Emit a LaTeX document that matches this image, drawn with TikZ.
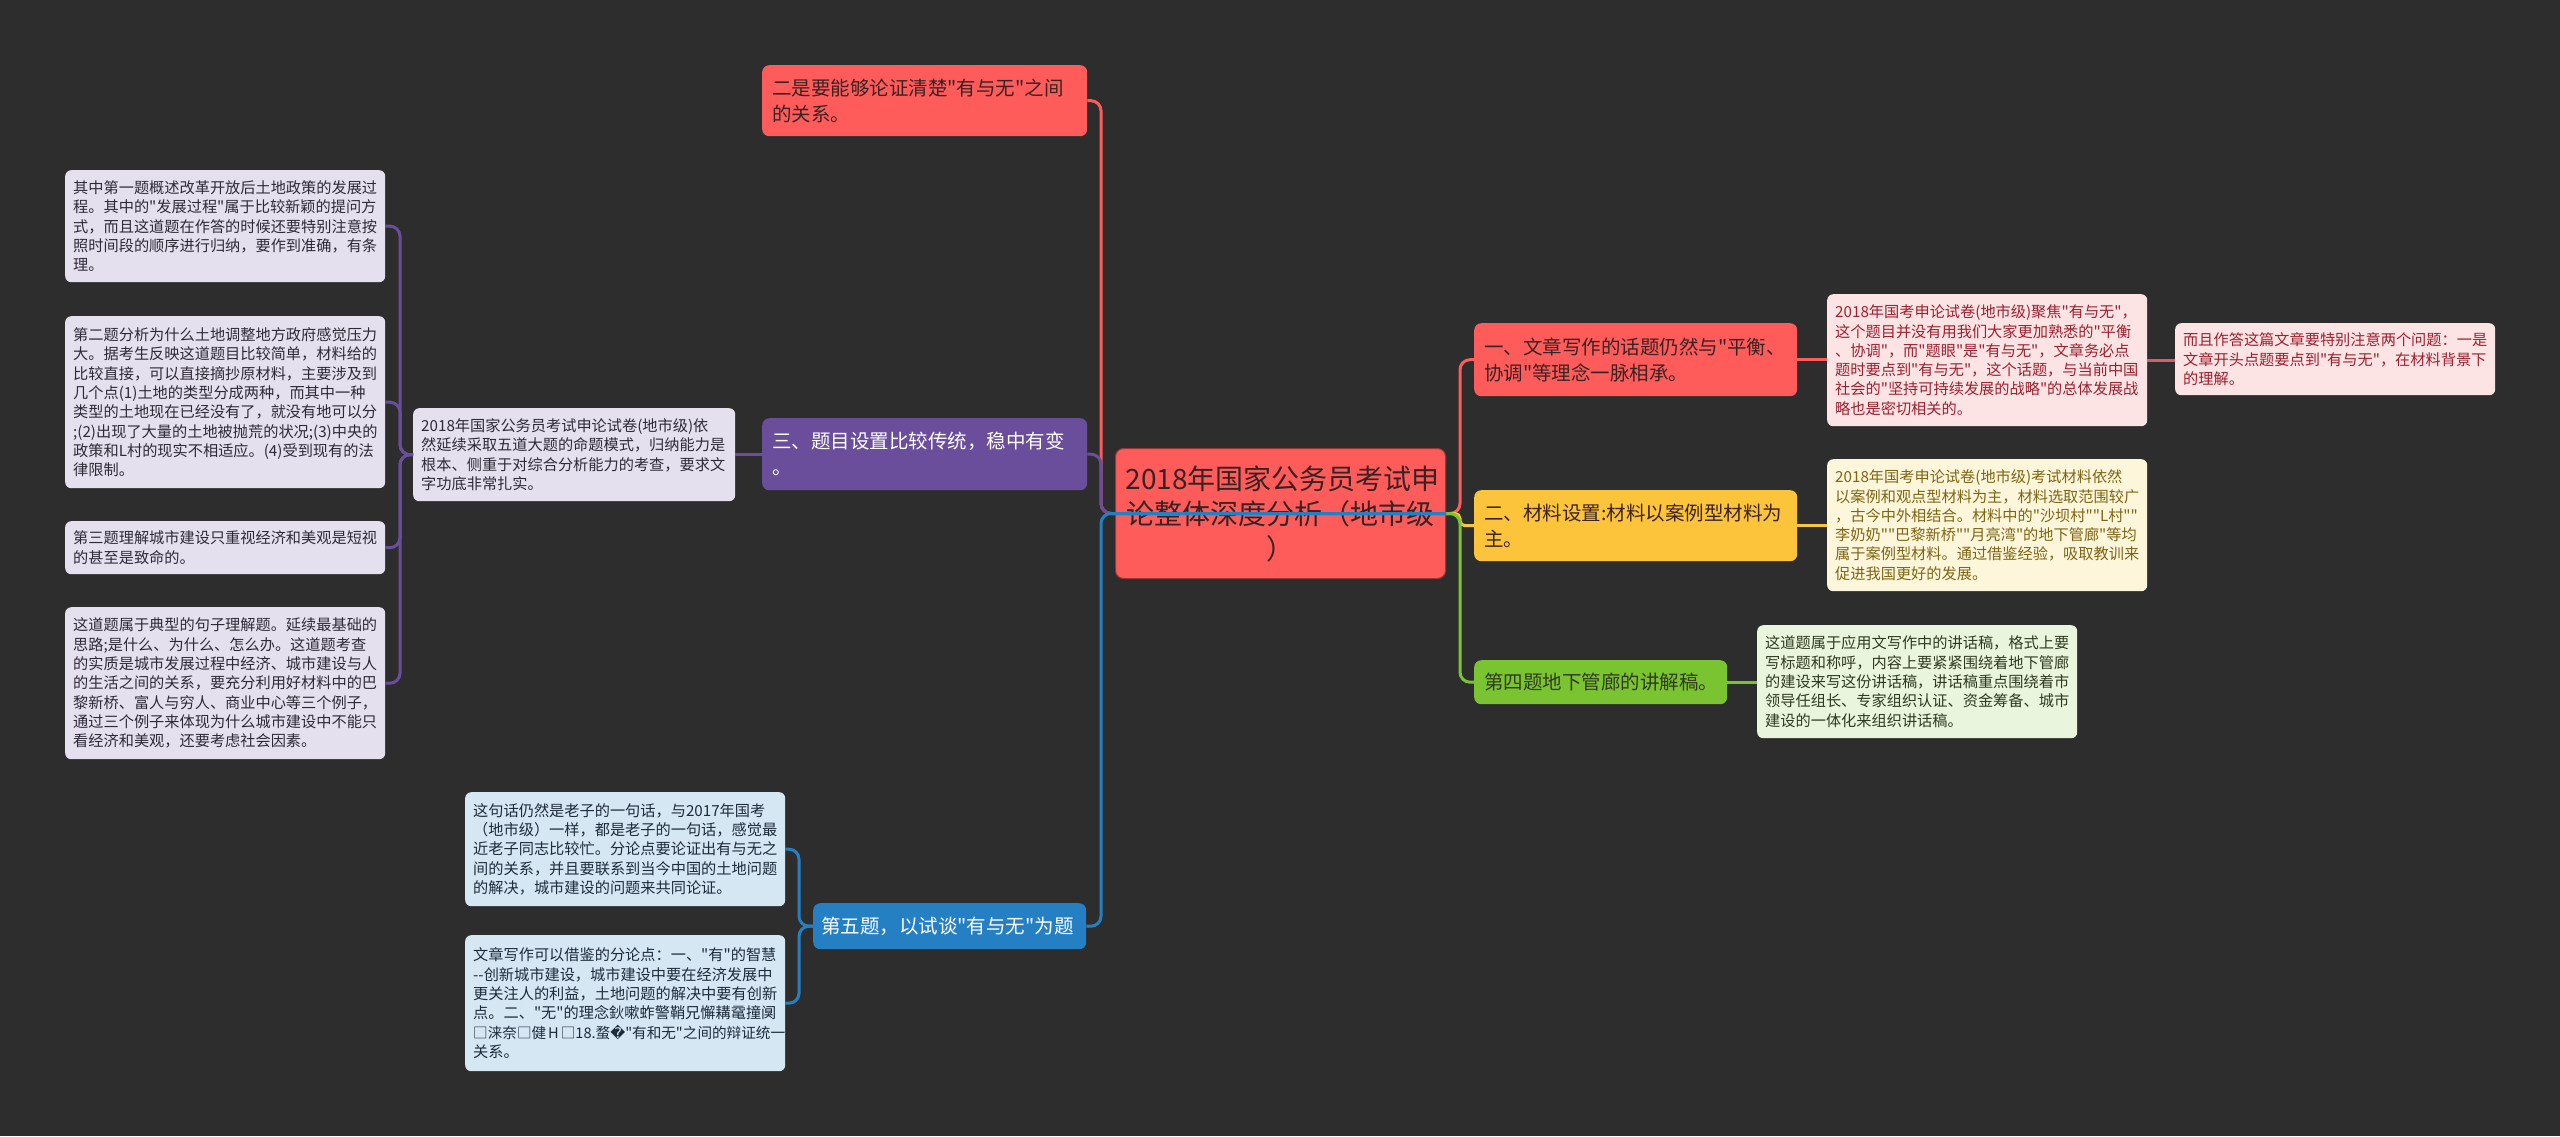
\documentclass[tikz,border=0pt]{standalone}
\usepackage{fontspec}
\newfontfamily\cjk{Noto Sans CJK SC}
\newfontfamily\dejavu{DejaVu Sans}
\usetikzlibrary{calc}
\definecolor{bg}{HTML}{2D2D2D}
\definecolor{cred}{HTML}{FE5B5B}
\definecolor{cpurple}{HTML}{6B4E9B}
\definecolor{cblue}{HTML}{2580C3}
\definecolor{cyellow}{HTML}{FCC43A}
\definecolor{cgreen}{HTML}{7BC431}
\definecolor{lpink}{HTML}{FDE4E4}
\definecolor{lcream}{HTML}{FDF6DA}
\definecolor{lgreen}{HTML}{E9F5DD}
\definecolor{llav}{HTML}{E5E0EE}
\definecolor{lblue}{HTML}{D6E7F4}
\definecolor{tdark}{HTML}{3A2222}
\definecolor{tpink}{HTML}{9A2030}
\definecolor{tcream}{HTML}{7D6515}
\definecolor{tgreen}{HTML}{2F3A20}
\definecolor{tlav}{HTML}{2E2A35}
\definecolor{tblue}{HTML}{1D2B3A}
\definecolor{cline2}{HTML}{D06070}
\tikzset{
  box/.style={anchor=north west, rounded corners=6, inner xsep=8, inner ysep=0,
    align=left, font=\cjk\fontsize{15.2}{19.3}\selectfont},
  topic/.style={anchor=north west, rounded corners=7, inner xsep=10, inner ysep=0,
    align=left, font=\cjk\fontsize{19.5}{26}\selectfont},
  link/.style={line width=3, rounded corners=10},
}
\begin{document}
\begin{tikzpicture}[x=1pt,y=-1pt]
\useasboundingbox (0,0) rectangle (2560,1136);
\fill[bg] (0,0) rectangle (2560,1136);

% root
\node[anchor=north west, fill=cred, draw=cred!60!black, line width=1, rounded corners=8,
  minimum width=330, minimum height=130, text width=310, inner xsep=10, inner ysep=0,
  align=center, font=\cjk\fontsize{28}{35}\selectfont, text=tdark] (root) at (1115,448)
  {2018年国家公务员考试申\\论整体深度分析（地市级\\）};

% level 1 topics
\node[topic, fill=cred, text=tdark, minimum width=325, minimum height=71, text width=305] (t2) at (762,65)
  {二是要能够论证清楚"有与无"之间\\的关系。};
\node[topic, fill=cpurple, text=white, minimum width=325, minimum height=72, text width=305] (t3) at (762,418)
  {三、题目设置比较传统，稳中有变\\。};
\node[topic, fill=cblue, text=white, minimum width=273, minimum height=46, text width=257, inner xsep=8] (t5) at (813,903)
  {第五题，以试谈"有与无"为题};
\node[topic, fill=cred, text=tdark, minimum width=323, minimum height=73, text width=303] (n1) at (1474,323)
  {一、文章写作的话题仍然与"平衡、\\协调"等理念一脉相承。};
\node[topic, fill=cyellow, text=tdark, minimum width=323, minimum height=71, text width=303] (n2) at (1474,490)
  {二、材料设置:材料以案例型材料为\\主。};
\node[topic, fill=cgreen, text=tgreen, minimum width=253, minimum height=44, text width=233] (n4) at (1474,660)
  {第四题地下管廊的讲解稿。};

% detail boxes (left)
\node[box, fill=llav, text=tlav, minimum width=320, minimum height=112, text width=304] (l1) at (65,170)
  {其中第一题概述改革开放后土地政策的发展过\\程。其中的"发展过程"属于比较新颖的提问方\\式，而且这道题在作答的时候还要特别注意按\\照时间段的顺序进行归纳，要作到准确，有条\\理。};
\node[box, fill=llav, text=tlav, minimum width=320, minimum height=172, text width=304] (l2) at (65,316)
  {第二题分析为什么土地调整地方政府感觉压力\\大。据考生反映这道题目比较简单，材料给的\\比较直接，可以直接摘抄原材料，主要涉及到\\几个点(1)土地的类型分成两种，而其中一种\\类型的土地现在已经没有了，就没有地可以分\\;(2)出现了大量的土地被抛荒的状况;(3)中央的\\政策和L村的现实不相适应。(4)受到现有的法\\律限制。};
\node[box, fill=llav, text=tlav, minimum width=320, minimum height=53, text width=304] (l3) at (65,521)
  {第三题理解城市建设只重视经济和美观是短视\\的甚至是致命的。};
\node[box, fill=llav, text=tlav, minimum width=320, minimum height=152, text width=304] (l4) at (65,607)
  {这道题属于典型的句子理解题。延续最基础的\\思路;是什么、为什么、怎么办。这道题考查\\的实质是城市发展过程中经济、城市建设与人\\的生活之间的关系，要充分利用好材料中的巴\\黎新桥、富人与穷人、商业中心等三个例子，\\通过三个例子来体现为什么城市建设中不能只\\看经济和美观，还要考虑社会因素。};
\node[box, fill=llav, text=tlav, minimum width=322, minimum height=93, text width=306] (mid) at (413,408)
  {2018年国家公务员考试申论试卷(地市级)依\\然延续采取五道大题的命题模式，归纳能力是\\根本、侧重于对综合分析能力的考查，要求文\\字功底非常扎实。};

% detail boxes (bottom)
\node[box, fill=lblue, text=tblue, minimum width=320, minimum height=114, text width=304] (b1) at (465,792)
  {这句话仍然是老子的一句话，与2017年国考\\（地市级）一样，都是老子的一句话，感觉最\\近老子同志比较忙。分论点要论证出有与无之\\间的关系，并且要联系到当今中国的土地问题\\的解决，城市建设的问题来共同论证。};
\node[box, fill=lblue, text=tblue, minimum width=320, minimum height=136, text width=304] (b2) at (465,935)
  {文章写作可以借鉴的分论点：一、"有"的智慧\\--创新城市建设，城市建设中要在经济发展中\\更关注人的利益，土地问题的解决中要有创新\\点。二、"无"的理念鈥嗽蚱警鞘兄懈耩鼋撞阒\\{\fontsize{14.6}{19.3}\selectfont □涞奈□健\kern2pt H\kern2pt □18.蝥{\dejavu �}"有和无"之间的辩证统一}\\关系。};

% detail boxes (right)
\node[box, fill=lpink, text=tpink, minimum width=320, minimum height=132, text width=304] (p1) at (1827,294)
  {2018年国考申论试卷(地市级)聚焦"有与无"，\\这个题目并没有用我们大家更加熟悉的"平衡\\、协调"，而"题眼"是"有与无"，文章务必点\\题时要点到"有与无"，这个话题，与当前中国\\社会的"坚持可持续发展的战略"的总体发展战\\略也是密切相关的。};
\node[box, fill=lpink, text=tpink, minimum width=320, minimum height=72, text width=304] (p2) at (2175,323)
  {而且作答这篇文章要特别注意两个问题：一是\\文章开头点题要点到"有与无"，在材料背景下\\的理解。};
\node[box, fill=lcream, text=tcream, minimum width=320, minimum height=132, text width=304] (c1) at (1827,459)
  {2018年国考申论试卷(地市级)考试材料依然\\以案例和观点型材料为主，材料选取范围较广\\，古今中外相结合。材料中的"沙坝村""L村""\\李奶奶""巴黎新桥""月亮湾"的地下管廊"等均\\属于案例型材料。通过借鉴经验，吸取教训来\\促进我国更好的发展。};
\node[box, fill=lgreen, text=tgreen, minimum width=320, minimum height=113, text width=304] (g1) at (1757,625)
  {这道题属于应用文写作中的讲话稿，格式上要\\写标题和称呼，内容上要紧紧围绕着地下管廊\\的建设来写这份讲话稿，讲话稿重点围绕着市\\领导任组长、专家组织认证、资金筹备、城市\\建设的一体化来组织讲话稿。};

% junctions
\coordinate (jl) at ($(root.west)+(-14,0)$);
\coordinate (jr) at ($(root.east)+(14,0)$);
\coordinate (jm) at ($(mid.west)+(-13,0)$);
\coordinate (jb) at ($(t5.west)+(-14,0)$);

% right connectors from root
\draw[link, draw=cred] (root.east) -- (jr) |- (n1.west);
\draw[link, draw=cyellow, rounded corners=5] (root.east) -- (jr) |- (n2.west);
\draw[link, draw=cgreen] (root.east) -- (jr) |- (n4.west);
% left connectors from root
\draw[link, draw=cred] (root.east) -- (jl) |- (t2.east);
\draw[link, draw=cpurple] (root.east) -- (jl) |- (t3.east);
\draw[link, draw=cblue] (root.east) -- (jl) |- (t5.east);

% second level
\draw[link, draw=cred] (n1.east) -- (p1.west |- n1.east);
\draw[link, draw=cline2] (p1.east) -- (p2.west |- p1.east);
\draw[link, draw=cyellow] (n2.east) -- (c1.west |- n2.east);
\draw[link, draw=cgreen] (n4.east) -- (g1.west |- n4.east);
\draw[link, draw=cpurple] (t3.west) -- (mid.east |- t3.west);
\draw[link, draw=cpurple] (mid.west) -- (jm) |- (l1.east);
\draw[link, draw=cpurple] (mid.west) -- (jm) |- (l2.east);
\draw[link, draw=cpurple] (mid.west) -- (jm) |- (l3.east);
\draw[link, draw=cpurple] (mid.west) -- (jm) |- (l4.east);
\draw[link, draw=cblue] (t5.west) -- (jb) |- (b1.east);
\draw[link, draw=cblue] (t5.west) -- (jb) |- (b2.east);
\end{tikzpicture}
\end{document}
